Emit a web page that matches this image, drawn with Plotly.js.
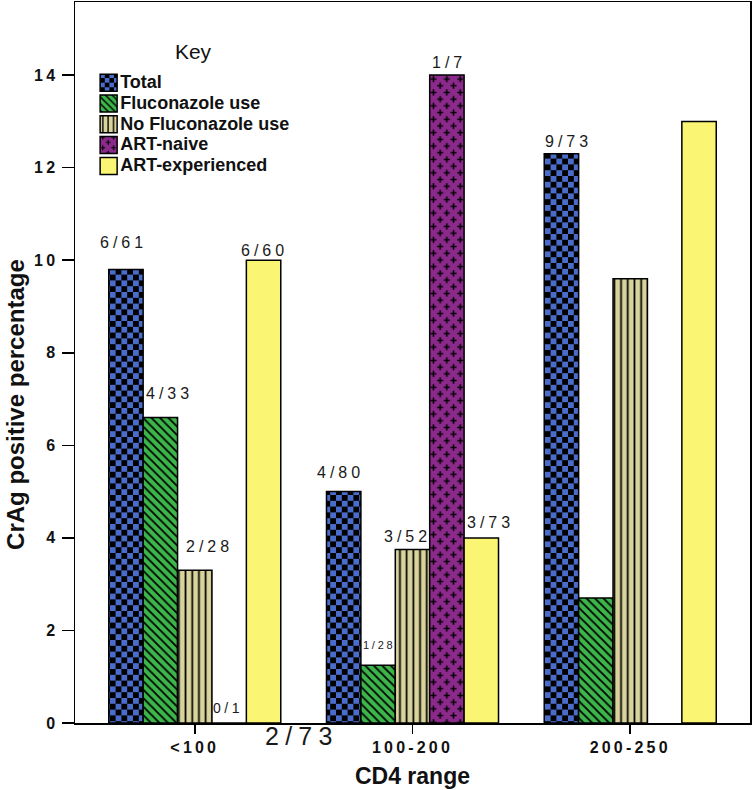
<!DOCTYPE html>
<html>
<head>
<meta charset="utf-8">
<script src="https://cdn.plot.ly/plotly-3.0.1.min.js"></script>
<style>
  html, body { margin: 0; padding: 0; background: #ffffff; }
  #chart { width: 752px; height: 790px; }
  .annotation-text { letter-spacing: 0.25em; }
  .annotation[data-index="0"] .annotation-text,
  .annotation[data-index="1"] .annotation-text { letter-spacing: 0; }
  .xtick text, .ytick text { letter-spacing: 0.2em; }
  .legendtext { font-size: 18px !important; }
</style>
</head>
<body>
<div id="chart"></div>
<script>
// ---------------- data ----------------
const categories = ['<100', '100-200', '200-250'];
const seriesNames = ['Total', 'Fluconazole use', 'No Fluconazole use', 'ART-naive', 'ART-experienced'];

const totalPct          = [9.8, 5.0, 12.3];
const fluconazolePct    = [6.6, 1.25, 2.7];
const noFluconazolePct  = [3.3, 3.75, 9.6];
const artNaivePct       = [0, 14.0, null];
const artExperiencedPct = [10.0, 4.0, 13.0];

const totalLabels          = ['6/61', '4/80', '9/73'];
const fluconazoleLabels    = ['4/33', '1/28', ''];
const noFluconazoleLabels  = ['2/28', '3/52', ''];
const artNaiveLabels       = ['0/1', '1/7', ''];
const artExperiencedLabels = ['6/60', '3/73', ''];
const strayLabel = '2/73';

const yTickValues = [0, 2, 4, 6, 8, 10, 12, 14];

// ---------------- styles ----------------
const seriesValues = [totalPct, fluconazolePct, noFluconazolePct, artNaivePct, artExperiencedPct];
const seriesLabels = [totalLabels, fluconazoleLabels, noFluconazoleLabels, artNaiveLabels, artExperiencedLabels];

const BLUE = '#4a6cca', GREEN = '#3db54b', TAN = '#d9d39c', PURPLE = '#8b2a8b', YELLOW = '#faf673';
const seriesPatterns = [
  { shape: '.', bgcolor: '#000000', fgcolor: BLUE, size: 8, solidity: 0.5, fillmode: 'replace' },
  { shape: '\\', bgcolor: GREEN, fgcolor: '#000000', size: 6, solidity: 0.3, fillmode: 'replace' },
  { shape: '|', bgcolor: TAN, fgcolor: '#000000', size: 6.7, solidity: 0.26, fillmode: 'replace' },
  { shape: '+', bgcolor: PURPLE, fgcolor: '#000000', size: 10, solidity: 0.15, fillmode: 'replace' },
  { shape: '', bgcolor: YELLOW, fgcolor: YELLOW, size: 8, solidity: 0.3, fillmode: 'replace' }
];
const seriesColors = [BLUE, GREEN, TAN, PURPLE, YELLOW];

// label offsets [dx, dy] in px (style only), per series / category
const labelOffsets = [
  [[-4, 27], [-5, 19], [5, 12.5]],
  [[7.5, 24.5], [0, 20], [0, 0]],
  [[12.5, 23.5], [-7, 13], [0, 0]],
  [[-3, 15], [0, 13], [0, 0]],
  [[-1, 10], [7, 15], [0, 0]]
];
const labelSizes = { '1/28': 11, '0/1': 14 };

const BARGAP = 0.21;
const barWidth = (1 - BARGAP) / seriesNames.length;

const traces = seriesNames.map((name, i) => ({
  type: 'bar',
  name: name,
  x: categories,
  y: seriesValues[i],
  marker: {
    color: seriesColors[i],
    line: { color: '#000000', width: 1.5 },
    pattern: seriesPatterns[i]
  },
  hoverinfo: 'skip'
}));

const annotations = [{
  text: 'Key', xref: 'paper', yref: 'paper', x: 0.175, y: 0.931,
  xanchor: 'center', yanchor: 'middle', showarrow: false,
  font: { size: 21, color: '#111111' }
}, {
  text: 'CrAg positive percentage', xref: 'paper', yref: 'paper', x: -0.089, y: 0.4424,
  xanchor: 'center', yanchor: 'middle', showarrow: false, textangle: -90,
  font: { size: 24, weight: 'bold', color: '#111111' }
}];

seriesLabels.forEach((labels, i) => {
  labels.forEach((lab, j) => {
    if (!lab) return;
    const size = labelSizes[lab] || 16;
    const off = labelOffsets[i][j];
    annotations.push({
      text: lab, xref: 'x', yref: 'y',
      x: j + (i - (seriesNames.length - 1) / 2) * barWidth,
      y: seriesValues[i][j] || 0,
      xanchor: 'center', yanchor: 'middle', showarrow: false,
      xshift: off[0] + size * 0.125, yshift: off[1],
      font: { size: size, color: '#1a1a1a' }
    });
  });
});

annotations.push({
  text: strayLabel, xref: 'x', yref: 'y', x: 0.477, y: 0,
  xanchor: 'center', yanchor: 'middle', showarrow: false,
  xshift: 3, yshift: -13,
  font: { size: 25, color: '#1a1a1a' }
});

const layout = {
  width: 752, height: 790,
  margin: { l: 75, r: 2, t: 2, b: 67 },
  paper_bgcolor: '#ffffff', plot_bgcolor: '#ffffff',
  barmode: 'group', bargap: BARGAP, bargroupgap: 0,
  font: { family: '"Liberation Sans", Arial, sans-serif', color: '#111111' },
  showlegend: true,
  legend: {
    x: 0.0076, y: 0.9095, xanchor: 'left', yanchor: 'top',
    bgcolor: 'rgba(0,0,0,0)', borderwidth: 0,
    font: { size: 13.7, weight: 'bold', color: '#111111' },
    traceorder: 'normal'
  },
  xaxis: {
    type: 'category', range: [-0.55, 2.55],
    showline: true, linecolor: '#000000', linewidth: 1.5, mirror: true,
    ticks: 'outside', ticklen: 9, tickwidth: 1.5, tickcolor: '#000000',
    tickfont: { size: 16, weight: 'bold', color: '#111111' },
    showgrid: false, zeroline: false, fixedrange: true,
    title: { text: 'CD4 range', font: { size: 23, weight: 'bold', color: '#111111' }, standoff: 13 }
  },
  yaxis: {
    range: [0, 15.58], tickvals: yTickValues,
    showline: true, linecolor: '#000000', linewidth: 1.5, mirror: true,
    ticks: 'outside', ticklen: 12, tickwidth: 1.5, tickcolor: '#000000',
    ticklabelstandoff: 0,
    tickfont: { size: 16, weight: 'bold', color: '#111111' },
    showgrid: false, zeroline: false, fixedrange: true
  },
  annotations: annotations
};

const SVGNS = 'http://www.w3.org/2000/svg';
function colorOf(el) {
  const c = el.getAttribute('fill') || getComputedStyle(el).fill || '';
  const m = c.match(/\d+(\.\d+)?/g);
  return m ? m.slice(0, 3).map(Number) : null;
}
function same(c, hex) {
  if (!c) return false;
  const r = parseInt(hex.slice(1, 3), 16), g = parseInt(hex.slice(3, 5), 16), b = parseInt(hex.slice(5, 7), 16);
  return Math.abs(c[0] - r) < 3 && Math.abs(c[1] - g) < 3 && Math.abs(c[2] - b) < 3;
}
function retile(p, rect, d, style) {
  Array.from(p.children).forEach(ch => { if (ch !== rect) p.removeChild(ch); });
  const s = style.size;
  p.setAttribute('width', s); p.setAttribute('height', s);
  rect.setAttribute('width', s); rect.setAttribute('height', s);
  const np = document.createElementNS(SVGNS, 'path');
  np.setAttribute('d', d);
  np.setAttribute('fill', style.fill);
  np.setAttribute('stroke', style.stroke);
  if (style.strokeWidth) np.setAttribute('stroke-width', style.strokeWidth);
  p.appendChild(np);
}

// refine the pattern tiles (checker and plus marks) and the legend swatches
function refinePatterns(gd) {
  gd.querySelectorAll('pattern').forEach(p => {
    if (p.getAttribute('data-refined')) return;
    const rect = p.querySelector('rect');
    if (!rect) return;
    const bg = colorOf(rect);
    if (same(bg, '#000000')) {
      const c = 5.8;
      retile(p, rect, 'M0,0h' + c + 'v' + c + 'h-' + c + 'zM' + c + ',' + c + 'h' + c + 'v' + c + 'h-' + c + 'z',
        { size: 2 * c, fill: BLUE, stroke: 'none' });
      p.setAttribute('data-refined', '1');
    } else if (same(bg, PURPLE)) {
      const s = 13.4, a = 3, h = s / 4, k = 3 * s / 4;
      const plus = (cx, cy) => 'M' + (cx - a) + ',' + cy + 'H' + (cx + a) + 'M' + cx + ',' + (cy - a) + 'V' + (cy + a);
      retile(p, rect, plus(h, h) + plus(k, k), { size: s, fill: 'none', stroke: '#000000', strokeWidth: 1.5 });
      p.setAttribute('data-refined', '1');
    }
  });
  gd.querySelectorAll('.legend .legendpoints path').forEach(pt => {
    pt.setAttribute('d', 'M17,8.5H0V-8.5H17Z');
  });
}

const gd = document.getElementById('chart');
Plotly.newPlot(gd, traces, layout, { displayModeBar: false, staticPlot: true }).then(() => {
  refinePatterns(gd);
  if (gd.on) gd.on('plotly_afterplot', () => refinePatterns(gd));
});
</script>
</body>
</html>
